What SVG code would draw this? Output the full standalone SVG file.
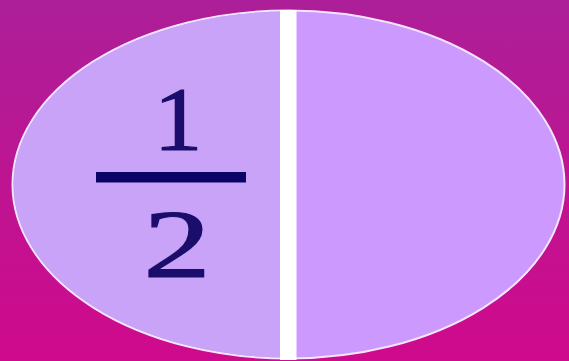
<svg xmlns="http://www.w3.org/2000/svg" width="569" height="361" viewBox="0 0 569 361">
  <defs>
    <linearGradient id="bg" x1="0" y1="0" x2="0" y2="1">
      <stop offset="0" stop-color="#ac1f98"/>
      <stop offset="1" stop-color="#cf0a8c"/>
    </linearGradient>
    <clipPath id="leftHalf"><rect x="0" y="0" width="288" height="361"/></clipPath>
    <style>
      .num { font-family: "Liberation Serif", "Times New Roman", serif; fill: #1a0d6b; stroke: #1a0d6b; stroke-width: 1.2; text-anchor: middle; }
    </style>
  </defs>
  <rect width="569" height="361" fill="url(#bg)"/>
  <g id="oval">
    <ellipse cx="288.5" cy="184.5" rx="276" ry="174" fill="#cc99ff" stroke="#f4e6ff" stroke-width="2"/>
    <ellipse cx="288.5" cy="184.5" rx="275" ry="173" fill="#c9a3f7" clip-path="url(#leftHalf)"/>
    <rect x="280" y="10" width="16.5" height="350" fill="#ffffff"/>
  </g>
  <g id="fraction">
    <text class="num" x="178" y="150" font-size="90" transform="translate(178 0) scale(1.08 1) translate(-178 0)">1</text>
    <rect x="96" y="172" width="150" height="10.5" fill="#0c0366"/>
    <text class="num" x="177" y="277" font-size="98" transform="translate(177 0) scale(1.38 1) translate(-177 0)">2</text>
  </g>
</svg>
